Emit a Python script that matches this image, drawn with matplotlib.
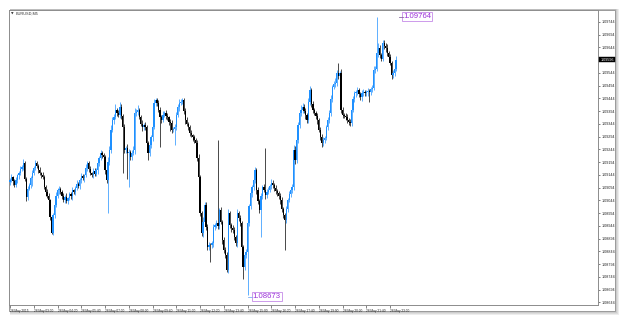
import matplotlib
matplotlib.use("Agg")
import matplotlib.pyplot as plt
from matplotlib.patches import Rectangle
from matplotlib.transforms import blended_transform_factory, offset_copy
import numpy as np

# ---------------- data (prices in points above 1.08000) ----------------
symbol_title = "EURUSD,M5"
base_price = 1.08
point = 0.00001
first_open_pts = 1115
close_pts = [
    1123, 1135, 1118, 1104, 1122, 1143, 1150, 1168, 1176, 1190,
    1128, 1057, 1090, 1104, 1130, 1150, 1172, 1190, 1178, 1163,
    1150, 1142, 1135, 1098, 1076, 1062, 1045, 978, 916, 985,
    1025, 1062, 1084, 1090, 1076, 1060, 1045, 1058, 1040, 1052,
    1068, 1060, 1084, 1078, 1092, 1110, 1100, 1123, 1138, 1130,
    1143, 1170, 1190, 1166, 1150, 1143, 1160, 1148, 1163, 1190,
    1210, 1229, 1222, 1214, 1163, 1123, 1195, 1241, 1320, 1359,
    1372, 1398, 1385, 1378, 1410, 1375, 1331, 1241, 1250, 1229,
    1235, 1214, 1228, 1241, 1386, 1392, 1398, 1370, 1345, 1331,
    1340, 1331, 1270, 1229, 1261, 1292, 1330, 1425, 1437, 1425,
    1400, 1370, 1359, 1380, 1386, 1375, 1370, 1352, 1347, 1319,
    1325, 1331, 1380, 1410, 1425, 1430, 1437, 1395, 1359, 1345,
    1331, 1308, 1300, 1292, 1280, 1268, 1210, 1135, 994, 916,
    960, 1025, 940, 861, 870, 869, 876, 939, 947, 955,
    945, 1006, 960, 888, 850, 829, 771, 994, 947, 935,
    927, 900, 876, 994, 975, 955, 860, 782, 829, 840,
    955, 1020, 1072, 1095, 1123, 1163, 1084, 1040, 1006, 1060,
    1096, 1085, 1065, 1078, 1084, 1100, 1112, 1105, 1092, 1080,
    1072, 1060, 1045, 1010, 986, 967, 1010, 1045, 1070, 1084,
    1096, 1241, 1202, 1280, 1340, 1386, 1400, 1410, 1395, 1378,
    1359, 1430, 1476, 1420, 1398, 1386, 1375, 1359, 1320, 1292,
    1268, 1280, 1288, 1331, 1360, 1386, 1440, 1488, 1500, 1504,
    1543, 1530, 1543, 1398, 1380, 1375, 1370, 1359, 1352, 1347,
    1398, 1440, 1464, 1470, 1476, 1460, 1449, 1464, 1470, 1464,
    1468, 1472, 1468, 1480, 1484, 1555, 1560, 1620, 1641, 1613,
    1600, 1660, 1650, 1641, 1621, 1605, 1582, 1535, 1545, 1560,
    1596,
]
upper_wick_pts = [
    8, 12, 6, 10, 14, 5, 9, 12, 7, 15, 10, 6, 12, 8, 10, 14, 6, 12, 9, 7,
    10, 6, 14, 8, 5, 12, 9, 6, 10, 8, 12, 15, 7, 10, 6, 9, 12, 8, 14, 6,
    10, 8, 12, 6, 9, 14, 7, 10, 12, 8, 6, 15, 10, 8, 12, 6, 9, 11, 7, 13,
    8, 12, 10, 6, 9, 14, 20, 15, 18, 12, 10, 25, 8, 14, 20, 10, 8, 12, 9, 14,
    10, 8, 12, 15, 20, 12, 18, 8, 10, 14, 9, 12, 10, 8, 14, 10, 12, 15, 10, 8,
    12, 9, 10, 14, 8, 12, 10, 6, 9, 12, 8, 14, 10, 12, 15, 10, 8, 9, 12, 10,
    8, 10, 12, 6, 9, 10, 12, 15, 10, 8, 20, 12, 14, 10, 12, 8, 10, 14, 9, 12,
    325, 10, 12, 8, 14, 10, 12, 16, 10, 8, 12, 14, 10, 16, 8, 12, 10, 9, 12, 14,
    12, 10, 14, 8, 12, 10, 8, 12, 10, 14, 9, 12, 164, 10, 12, 8, 14, 10, 9, 12,
    10, 8, 12, 14, 9, 10, 12, 8, 10, 12, 14, 20, 15, 18, 12, 10, 16, 14, 10, 12,
    8, 14, 15, 10, 12, 9, 10, 12, 8, 10, 12, 14, 10, 8, 12, 14, 16, 10, 12, 20,
    12, 39, 10, 14, 12, 8, 10, 12, 9, 10, 14, 12, 10, 8, 12, 10, 9, 12, 10, 8,
    10, 12, 8, 10, 12, 14, 10, 144, 20, 12, 10, 14, 12, 10, 15, 10, 12, 8, 10, 12, 14,
]
lower_wick_pts = [
    10, 6, 12, 8, 7, 10, 14, 6, 9, 12, 8, 14, 10, 6, 12, 30, 8, 10, 6, 12,
    8, 12, 6, 10, 14, 8, 12, 10, 4, 8, 12, 6, 10, 14, 8, 12, 6, 10, 8, 12,
    6, 10, 14, 8, 12, 6, 9, 10, 12, 8, 14, 6, 10, 12, 8, 6, 12, 10, 8, 14,
    10, 6, 12, 8, 14, 10, 129, 12, 10, 8, 14, 10, 12, 8, 10, 14, 180, 12, 10, 100,
    133, 12, 10, 8, 14, 10, 12, 8, 10, 14, 12, 10, 8, 25, 12, 10, 14, 8, 10, 12,
    10, 117, 12, 8, 10, 14, 10, 12, 30, 10, 8, 64, 12, 10, 14, 8, 10, 12, 14, 10,
    12, 10, 8, 14, 10, 12, 10, 14, 12, 10, 16, 12, 14, 10, 12, 67, 10, 14, 12, 10,
    14, 12, 10, 16, 12, 10, 6, 12, 10, 14, 12, 10, 12, 14, 10, 12, 16, 45, 12, 10,
    167, 12, 10, 14, 12, 10, 14, 12, 10, 106, 12, 10, 14, 12, 10, 8, 12, 14, 10, 12,
    10, 12, 14, 10, 12, 118, 10, 12, 8, 14, 10, 12, 16, 10, 12, 14, 10, 12, 8, 14,
    12, 10, 14, 12, 10, 8, 12, 14, 10, 12, 14, 10, 12, 8, 10, 14, 12, 10, 8, 12,
    10, 12, 14, 10, 12, 8, 10, 12, 14, 10, 12, 8, 10, 14, 12, 10, 12, 14, 10, 12,
    10, 14, 40, 12, 10, 8, 12, 10, 14, 12, 10, 8, 12, 14, 10, 12, 8, 14, 10, 12, 8,
]
time_labels = [
    "28 May 2015", "28 May 03:00", "28 May 04:20", "28 May 05:40", "28 May 07:00",
    "28 May 08:20", "28 May 09:40", "28 May 11:00", "28 May 12:20", "28 May 13:40",
    "28 May 15:00", "28 May 16:20", "28 May 17:40", "28 May 19:00", "28 May 20:20",
    "28 May 21:40", "28 May 23:00",
]
bars_per_label = 16
price_tick_start = 1.08644
price_tick_step = 0.0005
price_tick_count = 23

assert len(close_pts) == len(upper_wick_pts) == len(lower_wick_pts), (
    len(close_pts), len(upper_wick_pts), len(lower_wick_pts))

# ---------------- derived OHLC ----------------
c = np.array(close_pts, dtype=float)
o = np.concatenate([[first_open_pts], c[:-1]])
top = np.maximum(o, c)
bot = np.minimum(o, c)
h = top + np.array(upper_wick_pts)
l = bot - np.array(lower_wick_pts)
to_price = lambda v: base_price + np.asarray(v) * point
O, C, Hh, Ll = to_price(o), to_price(c), to_price(h), to_price(l)
idx = np.arange(len(C))

# ---------------- figure ----------------
W, Hpx = 625, 321
plt.rcParams['font.family'] = ['Liberation Sans', 'DejaVu Sans']
fig = plt.figure(figsize=(W / 100, Hpx / 100), dpi=100)
fig.patch.set_facecolor('white')
fx = lambda x: x / W
fy = lambda y: 1 - y / Hpx

# drop shadow + window frame
for k in range(4):
    fig.patches.append(Rectangle((fx(10), fy(312 + k)), (606 + k) / W, (303 + k) / Hpx,
                                 transform=fig.transFigure, facecolor='black',
                                 alpha=0.07, edgecolor='none', zorder=-3))
fig.patches.append(Rectangle((fx(9), fy(311)), 606 / W, 301 / Hpx,
                             transform=fig.transFigure, facecolor='white',
                             edgecolor='#9a9a9a', linewidth=0.7, zorder=-2))

ax = fig.add_axes([fx(9), fy(305), 589 / W, 295 / Hpx])
ax.set_facecolor('white')
ax.set_xlim(-0.67, 396)
ax.set_ylim(1.086338, 1.097902)
for s in ax.spines.values():
    s.set_color('#8c8c8c')
    s.set_linewidth(0.7)

bull_color = '#1e90ff'
bear_color = '#000000'
colors = np.where(C >= O, bull_color, bear_color)
ax.vlines(idx, Ll, Hh, colors=colors, linewidth=0.5, zorder=2)
body_h = np.maximum(np.abs(C - O), 0.6 * point)
ax.bar(idx, body_h, bottom=np.minimum(O, C), width=0.85, color=colors,
       linewidth=0, zorder=3)

# right price axis
ax.yaxis.tick_right()
ticks = price_tick_start + price_tick_step * np.arange(price_tick_count)
last_close = C[-1]
labels = ['' if abs(t - last_close) < 0.0001 else f"{t:.5f}" for t in ticks]
ax.set_yticks(ticks)
ax.set_yticklabels(labels)
ax.tick_params(axis='y', labelsize=2.7, length=1.5, width=0.4, pad=0.8,
               colors='#222222')

# bottom time axis
label_pos = np.arange(len(time_labels)) * bars_per_label
ax.set_xticks(label_pos)
ax.set_xticklabels(time_labels, ha='left')
ax.tick_params(axis='x', labelsize=2.3, length=2, width=0.4, pad=0.6,
               colors='#222222')

# current price box
bt = blended_transform_factory(ax.transAxes, ax.transData)
ax.text(1.004, last_close, f"{last_close:.5f}", transform=bt, ha='left', va='center',
        fontsize=2.7, color='white', zorder=6, clip_on=False,
        bbox=dict(boxstyle='square,pad=0.25', fc='black', ec='black', lw=0.3))

# title
fig.text(fx(12.5), fy(13.5), '\u25bc', fontsize=2.4, va='center', ha='center',
         family='DejaVu Sans', color='#333333')
fig.text(fx(16), fy(13.5), symbol_title, fontsize=2.8, va='center', ha='left',
         color='#333333')

# high / low labels
lab_color = '#9b30d9'
box_kw = dict(boxstyle='square,pad=0.12', fc='white', ec='#c58ae8', lw=0.6)
ih, il = int(np.argmax(Hh)), int(np.argmin(Ll))
hi_tr = offset_copy(ax.transData, fig=fig, x=26.5, y=0, units='dots')
ax.text(ih, Hh[ih], f"{Hh[ih]:.5f}", transform=hi_tr, ha='left', va='center',
        fontsize=5.6, color=lab_color, bbox=box_kw, zorder=7, clip_on=False)
dash_tr = offset_copy(ax.transData, fig=fig, x=22.5, y=0, units='dots')
ax.plot([ih, ih + 2.6], [Hh[ih], Hh[ih]], transform=dash_tr, color='#8a6aa0',
        lw=0.6, zorder=7)
lo_tr = offset_copy(ax.transData, fig=fig, x=5.2, y=-1.5, units='dots')
ax.text(il, Ll[il], f"{Ll[il]:.5f}", transform=lo_tr, ha='left', va='center',
        fontsize=5.6, color=lab_color, bbox=box_kw, zorder=7, clip_on=False)
conn_tr = offset_copy(ax.transData, fig=fig, x=0, y=-1.5, units='dots')
ax.plot([il, il + 3.2], [Ll[il], Ll[il]], transform=conn_tr, color='#7fb0f0',
        lw=0.6, zorder=7)

fig.savefig('out.png', dpi=100, facecolor='white')
